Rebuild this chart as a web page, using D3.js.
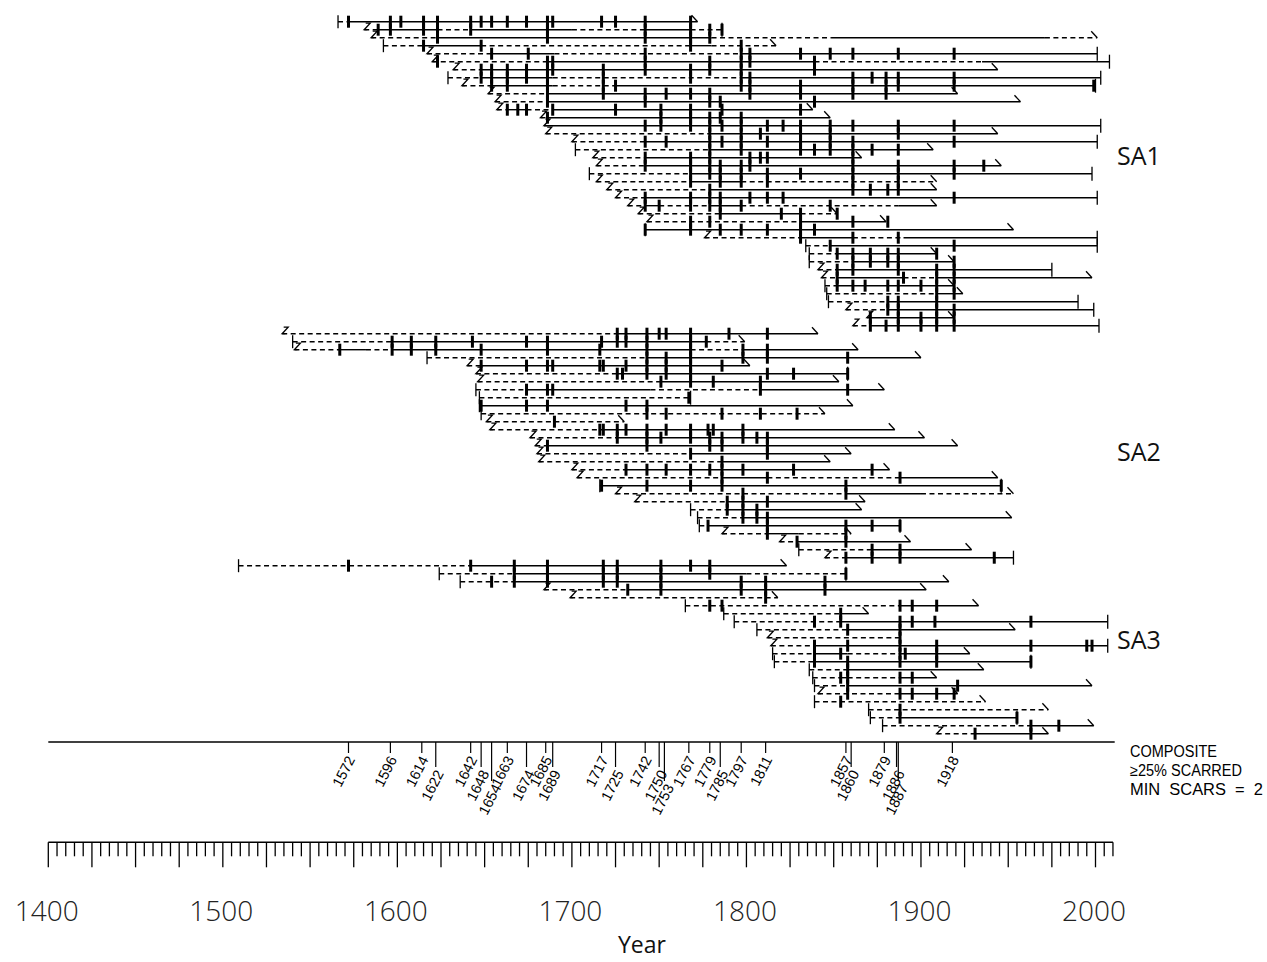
<!DOCTYPE html>
<html><head><meta charset="utf-8">
<script src="https://cdn.jsdelivr.net/npm/d3@7"></script>
<style>body{margin:0;background:#fff} svg{display:block}</style>
</head><body><svg id="c" width="1267" height="962"></svg>
<script>
// ---------- DATA ----------
const groupNames = ["SA1", "SA2", "SA3"];
const groupSizes = [39, 29, 22];
const groupLabelRow = [16.8, 53.8, 77.3];

const rowStart = [
 1566,1581,1585,1592,1617,1620,1632,1629,1637,1652,1656,1657,1682,1684,1685,1700,1702,1712,1714,1710,
 1714,1720,1725,1732,1738,1743,1742,1776,1834,1836,1836,1841,1843,1845,1846,1847,1857,1869,1861,
 1534,1540,1541,1617,1640,1645,1646,1645,1647,1647,1648,1651,1653,1676,1679,1680,1681,1700,1703,1716,
 1725,1736,1768,1772,1773,1786,1819,1830,1845,
 1509,1624,1636,1684,1699,1765,1787,1793,1806,1812,1814,1815,1816,1836,1838,1839,1841,1839,1870,1871,
 1878,1909];
const rowStartType = [
 "p","i","i","p","i","i","i","p","i","i","i","i","i","i","i","i","p","i","i","p",
 "i","i","i","i","i","i","p","i","p","p","p","i","i","p","p","p","i","i","i",
 "i","p","i","p","i","i","i","p","p","p","p","i","i","i","i","i","i","i","i","p",
 "i","i","p","p","p","i","i","p","i",
 "p","p","p","i","i","p","p","p","p","i","i","p","p","p","p","p","i","p","p","p",
 "p","i"];
const rowEnd = [
 1772,1786,2001,1817,2001,2008,1944,2003,2000,1921,1957,1838,1848,2003,1944,2001,1907,1866,1946,1998,
 1909,1909,2001,1909,1852,1880,1953,2001,2001,1909,1919,1975,1998,1919,1924,1990,1999,1919,2002,
 1841,1799,1864,1900,1802,1858,1853,1879,1768,1861,1845,1730,1885,1902,1921,1860,1848,1882,1944,1946,
 1953,1868,1866,1952,1888,1860,1894,1929,1953,
 1823,1857,1916,1903,1818,1933,1870,2007,1954,1888,2007,1928,1963,1936,1909,1998,1921,1937,1973,1955,
 1999,1973];
const rowEndType = [
 "o","b","o","o","b","b","o","b","b","o","o","o","o","b","o","b","o","o","o","b",
 "o","o","b","o","o","o","o","b","b","o","o","b","o","o","o","b","b","o","b",
 "o","o","o","o","o","b","o","o","b","o","o","o","o","o","o","o","o","o","o","b",
 "o","o","o","o","b","o","o","o","b",
 "o","b","o","o","o","o","o","b","o","b","b","o","b","o","o","o","o","o","o","b",
 "o","o"];
const rowRecorder = [
 [[1572,1772]],[[1589,1623],[1642,1700],[1742,1768]],[[1623,1780],[1849,1971]],[[1615,1648],[1768,1780]],
 [[1654,1690],[1797,2001]],[[1686,1839],[1935,2008]],[[1648,1944]],[[1648,1689],[1797,2003]],
 [[1654,1689],[1725,2000]],[[1686,1921]],[[1686,1957]],[[1663,1674],[1689,1838]],[[1686,1848]],
 [[1684,2003]],[[1779,1944]],[[1742,2001]],[[1779,1907]],[[1742,1866]],[[1742,1946]],[[1768,1998]],
 [[1768,1797]],[[1779,1909]],[[1742,2001]],[[1742,1750],[1779,1797],[1887,1909]],[[1785,1831]],
 [[1831,1880]],[[1742,1953]],[[1831,1861],[1890,2001]],[[1848,2001]],[[1852,1909]],[[1861,1919]],
 [[1852,1975]],[[1852,1890],[1909,1998]],[[1852,1919]],[[1909,1924]],[[1881,1990]],[[1881,1999]],
 [[1871,1919]],[[1871,2002]],
 [[1726,1841]],[[1597,1777]],[[1567,1582],[1597,1768],[1798,1864]],[[1743,1900]],[[1648,1802]],
 [[1726,1858]],[[1751,1853]],[[1674,1745],[1808,1879]],[],[[1648,1861]],[],[],[[1716,1885]],
 [[1726,1902]],[[1686,1921]],[[1768,1860]],[[1786,1848]],[[1731,1882]],[[1786,1812],[1888,1944]],
 [[1717,1946]],[[1857,1900]],[[1789,1868]],[[1789,1866]],[[1798,1952]],[[1778,1888]],[[1812,1830]],
 [[1829,1894]],[[1872,1929]],[[1857,1953]],
 [[1642,1823]],[[1667,1800]],[[1667,1916]],[[1732,1903]],[],[[1888,1933]],[[1854,1870]],[[1854,2007]],
 [[1858,1954]],[],[[1839,2007]],[[1839,1858],[1888,1928]],[[1839,1963]],[[1858,1936]],
 [[1854,1858],[1888,1909]],[[1858,1998]],[[1888,1921]],[],[],[[1888,1955]],[[1963,1999]],[[1931,1973]]];
const rowScars = [
 [1572,1596,1602,1615,1623,1642,1648,1654,1663,1674,1686,1689,1717,1725,1742,1768],
 [1589,1596,1615,1623,1642,1686,1742,1768,1779,1786],
 [1623,1686,1742,1768,1779],
 [1615,1648,1768,1797],
 [1654,1675,1742,1797,1802,1831,1848,1861,1887,1919],
 [1623,1686,1689,1742,1779,1797,1802,1839],
 [1648,1654,1663,1674,1686,1689,1718,1742,1768,1779,1797,1839],
 [1648,1654,1663,1674,1686,1718,1768,1797,1802,1861,1872,1880,1887,1919],
 [1654,1663,1686,1718,1725,1797,1802,1831,1861,1880,1887,1919,1999],
 [1686,1718,1742,1754,1768,1779,1802,1831,1861,1880],
 [1686,1742,1779,1785,1839],
 [1663,1669,1674,1689,1725,1751,1768,1786,1831],
 [1686,1751,1768,1779,1785,1797],
 [1742,1751,1768,1779,1786,1797,1812,1821,1831,1848,1861,1887,1919],
 [1779,1797,1808,1831,1848,1887],
 [1742,1754,1779,1786,1797,1812,1831,1848,1861,1919],
 [1779,1797,1831,1839,1848,1861,1872,1887],
 [1742,1768,1779,1802,1808,1812,1861],
 [1742,1768,1779,1785,1797,1802,1861,1887,1919,1936],
 [1768,1779,1785,1797,1812,1831,1861,1887,1919],
 [1768,1785,1797,1812,1861,1887],
 [1779,1861,1871,1881,1887],
 [1742,1768,1779,1785,1802,1812,1821,1919],
 [1742,1750,1768,1779,1785,1797,1848],
 [1785,1820,1831,1852],
 [1768,1779,1831,1861,1881],
 [1742,1768,1785,1797,1812,1831,1839],
 [1831,1861,1887],
 [1848,1919],
 [1852,1861,1871,1881,1887,1909],
 [1861,1871,1881,1887,1919],
 [1852,1861,1887,1909,1919],
 [1852,1890,1909,1919],
 [1852,1861,1868,1881,1887,1900,1909,1919],
 [1909,1919],
 [1881,1887,1909],
 [1881,1887,1909,1919],
 [1871,1887,1900,1909,1919],
 [1871,1880,1887,1900,1909,1919],
 [1726,1731,1743,1750,1754,1768,1790,1812],
 [1597,1608,1622,1643,1674,1686,1717,1726,1731,1743,1768,1777],
 [1567,1597,1608,1622,1648,1686,1716,1743,1768,1798,1812],
 [1743,1754,1768,1798,1812,1858],
 [1648,1674,1686,1689,1716,1718,1731,1743,1754,1768,1786],
 [1726,1729,1743,1754,1768,1812,1827,1858],
 [1751,1768,1781,1808],
 [1674,1686,1689,1808,1858],
 [1767],
 [1648,1674,1686,1731,1743],
 [1743,1754,1786,1808,1829],
 [1690],
 [1716,1718,1726,1731,1743,1754,1768,1778,1781,1798],
 [1726,1743,1751,1768,1779,1786,1798,1806,1812],
 [1686,1743,1779,1786,1812],
 [1768,1812],
 [1786],
 [1731,1743,1754,1768,1779,1786,1798,1827,1872],
 [1786,1812,1888],
 [1717,1743,1768,1786,1857,1946],
 [1798,1857],
 [1789,1798,1812],
 [1789,1798,1806],
 [1798,1806,1812],
 [1778,1812,1857,1872,1888],
 [1812,1857],
 [1829,1857],
 [1872,1888],
 [1857,1872,1888,1942],
 [1572,1642,1667,1686,1718,1726,1751,1768,1779],
 [1667,1686,1718,1726,1751,1779,1857],
 [1654,1667,1686,1718,1726,1751,1797,1811,1845],
 [1732,1751,1797,1811,1845],
 [1811],
 [1779,1786,1888,1895,1909],
 [1854],
 [1839,1854,1888,1895,1908,1963],
 [1858,1888],
 [1888],
 [1839,1858,1888,1909,1963,1995,1998],
 [1839,1854,1888,1891,1909],
 [1839,1858,1888,1909,1963],
 [1858],
 [1854,1858,1888,1895],
 [1858,1921],
 [1858,1888,1895,1909,1919],
 [1854],
 [1888],
 [1888,1955],
 [1963,1979],
 [1931,1963]];

const compositeYears = [1572,1596,1614,1622,1642,1648,1654,1663,1674,1685,1689,1717,1725,1742,1750,1753,1767,1779,1785,1797,1811,1857,1860,1879,1886,1887,1918];
const compositeLevel = [0,0,0,1,0,1,2,0,1,0,1,0,1,0,1,2,0,0,1,0,0,0,1,0,1,2,0];
const axisLabelYears = [1400,1500,1600,1700,1800,1900,2000];
const legendLines = ["COMPOSITE", "\u226525% SCARRED", "MIN  SCARS  =  2"];
const legendWidths = [87, 112, 133];

// ---------- SCALES ----------
const svg = d3.select("#c");
const x = d3.scaleLinear().domain([1400, 2000]).range([48.3, 1095.5]);
const y = d3.scaleLinear().domain([0, 89]).range([21.7, 733.7]);

const rows = rowStart.map((s, i) => ({
  i, s, st: rowStartType[i], e: rowEnd[i], et: rowEndType[i],
  rec: rowRecorder[i], sc: rowScars[i]
}));

function segments(r) {
  const out = [];
  let cur = r.s;
  r.rec.forEach(([a, b]) => {
    a = Math.max(a, r.s); b = Math.min(b, r.e);
    if (a > cur) out.push({a: cur, b: a, solid: false});
    if (b > a) out.push({a: a, b: b, solid: true});
    cur = Math.max(cur, b);
  });
  if (cur < r.e) out.push({a: cur, b: r.e, solid: false});
  return out;
}

const g = svg.append("g");
rows.forEach(r => {
  const yy = y(r.i);
  const gr = g.append("g");
  gr.selectAll("line.seg").data(segments(r)).join("line")
    .attr("x1", d => x(d.a)).attr("x2", d => x(d.b))
    .attr("y1", yy).attr("y2", yy)
    .attr("stroke", "#000").attr("stroke-width", 1.4)
    .attr("stroke-dasharray", d => d.solid ? null : "5,3.5");
  const xs = x(r.s);
  if (r.st === "p") {
    gr.append("line").attr("x1", xs).attr("x2", xs).attr("y1", yy - 6.5).attr("y2", yy + 6.5)
      .attr("stroke", "#000").attr("stroke-width", 1.3);
  } else {
    gr.append("path").attr("d", `M${xs + 1.5},${yy - 6.5} L${xs + 6},${yy - 6.5} L${xs},${yy} L${xs+3},${yy}`)
      .attr("fill", "none").attr("stroke", "#000").attr("stroke-width", 1.3);
  }
  const xe = x(r.e);
  if (r.et === "b") {
    gr.append("line").attr("x1", xe).attr("x2", xe).attr("y1", yy - 7).attr("y2", yy + 7)
      .attr("stroke", "#000").attr("stroke-width", 1.3);
  } else {
    gr.append("line").attr("x1", xe - 6).attr("x2", xe).attr("y1", yy - 6.5).attr("y2", yy)
      .attr("stroke", "#000").attr("stroke-width", 1.3);
  }
  gr.selectAll("rect").data(r.sc).join("rect")
    .attr("x", d => x(d) - 1.5).attr("y", yy - 6).attr("width", 3).attr("height", 12)
    .attr("fill", "#000");
});

// group labels
groupNames.forEach((n, k) => {
  svg.append("text").attr("x", 1117).attr("y", y(groupLabelRow[k]) + 9)
    .attr("font-family", "'Open Sans', sans-serif").attr("font-size", 25)
    .attr("fill", "#111").text(n);
});

// ---------- COMPOSITE ----------
const compY = 742;
svg.append("line").attr("x1", x(1400)).attr("x2", x(2011)).attr("y1", compY).attr("y2", compY)
  .attr("stroke", "#000").attr("stroke-width", 1.5);
const tickBottom = l => 753 + l * 14;
svg.selectAll("line.ct").data(compositeYears).join("line").attr("class", "ct")
  .attr("x1", d => x(d)).attr("x2", d => x(d))
  .attr("y1", compY).attr("y2", (d, i) => tickBottom(compositeLevel[i]))
  .attr("stroke", "#000").attr("stroke-width", 1.2);
svg.selectAll("text.cl").data(compositeYears).join("text").attr("class", "cl")
  .attr("transform", (d, i) => `translate(${x(d) + 2.5 + compositeLevel[i] * 1.5},${tickBottom(compositeLevel[i]) + 4}) rotate(-63)`)
  .attr("text-anchor", "end").attr("dy", "0.35em")
  .attr("font-family", "'Liberation Sans', Arial, sans-serif").attr("font-size", 14.5)
  .attr("fill", "#000").text(d => d);

legendLines.forEach((t, k) => {
  svg.append("text").attr("x", 1130).attr("y", 756.7 + k * 19.2)
    .attr("font-family", "'Liberation Sans', Arial, sans-serif").attr("font-size", 16)
    .attr("textLength", legendWidths[k]).attr("lengthAdjust", "spacingAndGlyphs")
    .style("white-space", "pre").attr("fill", "#000").text(t);
});

// ---------- TIME AXIS ----------
const axY = 842.3;
const ax = svg.append("g");
ax.append("line").attr("x1", x(1400)).attr("x2", x(2010)).attr("y1", axY).attr("y2", axY)
  .attr("stroke", "#000").attr("stroke-width", 1.4);
const tickYears = d3.range(1400, 2011, 5);
ax.selectAll("line.t").data(tickYears).join("line").attr("class", "t")
  .attr("x1", d => x(d)).attr("x2", d => x(d))
  .attr("y1", axY).attr("y2", d => axY + (d % 25 === 0 ? 25 : 14))
  .attr("stroke", "#000").attr("stroke-width", 1.3);
ax.selectAll("text.al").data(axisLabelYears).join("text").attr("class", "al")
  .attr("x", d => x(d) - 1.5).attr("y", 921)
  .attr("text-anchor", "middle")
  .attr("font-family", "'Open Sans', sans-serif").attr("font-weight", 300).attr("font-size", 28)
  .attr("fill", "#222").text(d => d);
svg.append("text").attr("x", 642).attr("y", 953).attr("text-anchor", "middle")
  .attr("font-family", "'Open Sans', sans-serif").attr("font-size", 23)
  .attr("fill", "#111").text("Year");
</script>
</body></html>
